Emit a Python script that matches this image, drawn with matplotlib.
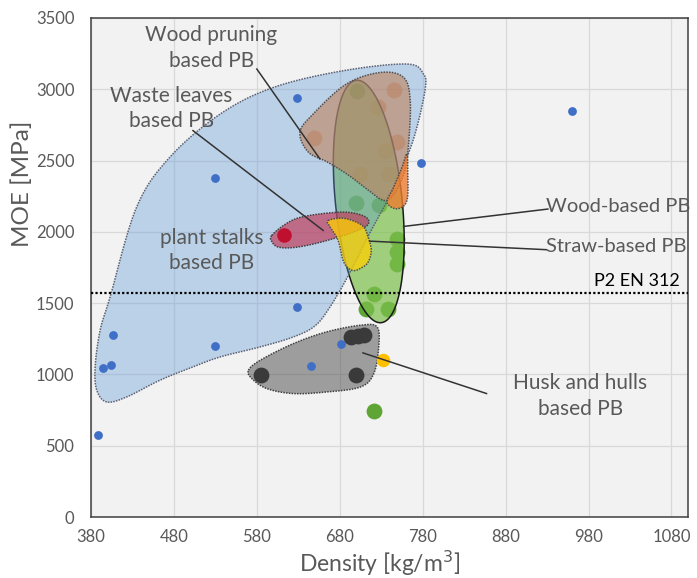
import numpy as np
import matplotlib.pyplot as plt
from matplotlib.patches import Polygon

plt.rcParams['font.family'] = ['Lato', 'DejaVu Sans']

# ---- scatter data (density kg/m3, MOE MPa) ----
plant_d = [960, 778, 628, 529, 389, 407, 394, 404, 529, 628, 645, 682]
plant_moe = [2845, 2482, 2940, 2381, 574, 1280, 1048, 1064, 1197, 1473, 1057, 1214]

husk_d = [585, 700, 694, 702, 709]
husk_moe = [994, 994, 1262, 1270, 1276]

yellow_d = [732]
yellow_moe = [1099]

leaves_d = [613]
leaves_moe = [1975]

straw_d = [721, 749, 749, 749, 721, 712, 738, 701, 699, 727]
straw_moe = [742, 1951, 1858, 1777, 1567, 1462, 1462, 2985, 2204, 2190]

pruning_d = [746, 649, 749, 734, 704, 739, 726]
pruning_moe = [2997, 2659, 2633, 2565, 2407, 2407, 2873]

# ---- region outlines (control points, smoothed) ----
blue_d = [399, 387, 385, 391, 403, 435, 475, 536, 600, 684, 761, 781, 783, 773,
          761, 740, 716, 690, 668, 650, 624, 584, 536, 503, 463, 423]
blue_moe = [807, 889, 1052, 1309, 1543, 2173, 2523, 2827, 3013, 3130, 3177, 3107, 3000, 2733,
            2523, 2250, 1989, 1690, 1471, 1340, 1263, 1193, 1123, 1053, 959, 842]

brown_d = [632, 648, 688, 729, 757, 765, 763, 758, 745, 733, 715, 690, 665, 642]
brown_moe = [2698, 2827, 3037, 3118, 3083, 2920, 2617, 2420, 2260, 2220, 2290, 2400, 2490, 2560]

# straw ellipse: centre and two half-axis vectors (data units)
ell_c = (715, 2213)
ell_major = (-15, 850)
ell_minor = (40, 24)

orange_d = [761, 762, 761, 749, 737, 745, 755]
orange_moe = [2547, 2430, 2220, 2162, 2208, 2313, 2453]

red_d = [598, 614, 632, 664, 692, 712, 713, 692, 656, 626, 606, 598]
red_moe = [1975, 2052, 2101, 2131, 2136, 2101, 2045, 1989, 1926, 1891, 1893, 1933]

yel_d = [666, 686, 707, 714, 718, 714, 705, 695, 685, 678, 668]
yel_moe = [2080, 2094, 2045, 1968, 1870, 1786, 1744, 1730, 1786, 1940, 2038]

gray_d = [570, 584, 624, 664, 705, 725, 727, 721, 705, 664, 624, 592, 574]
gray_moe = [1029, 1099, 1216, 1298, 1345, 1333, 1193, 1006, 912, 877, 866, 901, 971]

en312 = 1570


def smooth(xs, ys, n=24):
    p = np.column_stack([xs, ys]).astype(float)
    k = len(p)
    t = np.linspace(0, 1, n, endpoint=False)[:, None]
    segs = []
    for i in range(k):
        p0, p1, p2, p3 = p[i - 1], p[i], p[(i + 1) % k], p[(i + 2) % k]
        segs.append(0.5 * (2 * p1 + (-p0 + p2) * t + (2 * p0 - 5 * p1 + 4 * p2 - p3) * t ** 2
                           + (-p0 + 3 * p1 - 3 * p2 + p3) * t ** 3))
    return np.vstack(segs)


def ellipse(c, u, v, n=200):
    t = np.linspace(0, 2 * np.pi, n)[:, None]
    return np.array(c) + np.cos(t) * np.array(u) + np.sin(t) * np.array(v)


fig = plt.figure(figsize=(6.97, 5.78), dpi=100)
ax = fig.add_axes([91 / 697, 1 - 517 / 578, (688 - 91) / 697, (517 - 18) / 578])
ax.set_facecolor('#f2f2f2')
ax.set_xlim(380, 1100)
ax.set_ylim(0, 3500)
ax.set_xticks(range(380, 1081, 100))
ax.set_yticks(range(0, 3501, 500))
ax.grid(True, color='#d9d9d9', lw=0.9)
ax.set_axisbelow(True)
ax.tick_params(length=0, labelsize=12, labelcolor='#595959')
ax.tick_params(axis='x', pad=9)
ax.tick_params(axis='y', pad=12)
for s in ax.spines.values():
    s.set_color('#404040')
    s.set_linewidth(1.1)

# dots that sit under the shaded regions
ax.scatter(straw_d, straw_moe, s=130, color='#5fa535', zorder=2, lw=0)
ax.scatter(pruning_d, pruning_moe, s=130, color='#ed7d31', alpha=0.55, zorder=2, lw=0)

dot = (0, (1, 0.8))
regions = [
    (ellipse(ell_c, ell_major, ell_minor), '#7cc04c', 0.7, '#1a1a1a', '-', 3),
    (smooth(blue_d, blue_moe), '#5b97d8', 0.36, '#5a6070', dot, 4),
    (smooth(gray_d, gray_moe), '#505050', 0.52, '#404040', dot, 5),
    (smooth(brown_d, brown_moe), '#bf815a', 0.6, '#505050', dot, 6),
    (smooth(orange_d, orange_moe), '#ed7d31', 0.8, '#505050', dot, 7),
    (smooth(red_d, red_moe), '#c0405f', 0.7, '#404040', dot, 8),
    (smooth(yel_d, yel_moe), '#ffd000', 0.75, '#505050', dot, 9),
]
for pts, fc, a, ec, ls, z in regions:
    ax.add_patch(Polygon(pts, closed=True, facecolor=fc, alpha=a, edgecolor='none', zorder=z))
    ax.add_patch(Polygon(pts, closed=True, facecolor='none', edgecolor=ec, lw=1.1,
                         linestyle=ls, zorder=z + 0.5))

ax.scatter(plant_d, plant_moe, s=40, color='#3f6fc6', zorder=20, lw=0)
ax.scatter(husk_d, husk_moe, s=130, color='#3a3a3a', zorder=20, lw=0)
ax.scatter(yellow_d, yellow_moe, s=95, color='#ffc000', zorder=20, lw=0)
ax.scatter(leaves_d, leaves_moe, s=110, color='#c00020', alpha=0.85, zorder=20, lw=0)

ax.axhline(en312, color='black', lw=1.6, linestyle=(0, (1, 1)), zorder=22)
ax.text(1090, en312 + 30, 'P2 EN 312', ha='right', va='bottom', fontsize=13,
        color='black', zorder=23)

lab = dict(color='#595959', fontsize=15, ha='center', va='center', linespacing=1.35, zorder=24)
ax.text(525, 3290, 'Wood pruning\nbased PB', **lab)
ax.text(477, 2864, 'Waste leaves\nbased PB', **lab)
ax.text(526, 1870, 'plant stalks\nbased PB', **lab)
ax.text(970, 847, 'Husk and hulls\nbased PB', **lab)
ax.text(929, 2178, 'Wood-based PB', color='#595959', fontsize=14.5, ha='left', va='center',
        zorder=24, clip_on=False)
ax.text(929, 1898, 'Straw-based PB', color='#595959', fontsize=14.5, ha='left', va='center',
        zorder=24, clip_on=False)

lines = [
    ([580, 656], [3142, 2512]),
    ([503, 660], [2710, 2010]),
    ([757, 931], [2038, 2160]),
    ([716, 929], [1935, 1875]),
    ([708, 857], [1151, 866]),
]
for xs, ys in lines:
    ax.plot(xs, ys, color='#333333', lw=1.1, zorder=23)

fig.text(380 / 697, 1 - 563 / 578, 'Density [kg/m$^3$]', ha='center', va='center',
         fontsize=16.5, color='#595959')
fig.text(22 / 697, 1 - 184 / 578, 'MOE [MPa]', ha='center', va='center', rotation=90,
         fontsize=17.5, color='#595959')

fig.savefig('out.png', dpi=100)
